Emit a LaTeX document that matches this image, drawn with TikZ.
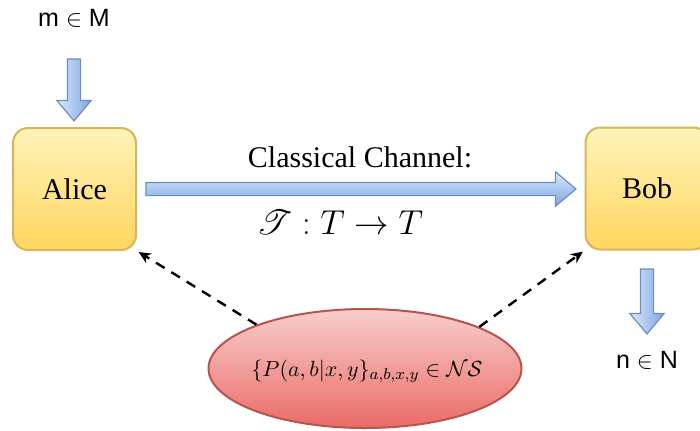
\documentclass[tikz,border=0pt]{standalone}
\usepackage{fontspec}
\setmainfont{Liberation Serif}
\setsansfont{Liberation Sans}
\usepackage{mathrsfs}
\usepackage{tkz-euclide}
\usetikzlibrary{shapes.geometric,shapes.arrows,arrows.meta}
\definecolor{partyline}{RGB}{214,182,86}
\definecolor{partytop}{RGB}{255,243,185}
\definecolor{partybot}{RGB}{255,214,95}
\definecolor{arrowline}{RGB}{108,142,191}
\definecolor{arrowtop}{RGB}{218,232,252}
\definecolor{arrowbot}{RGB}{126,166,224}
\definecolor{nsline}{RGB}{184,84,80}
\definecolor{nstop}{RGB}{248,206,204}
\definecolor{nsbot}{RGB}{234,107,102}
\tikzset{
  party/.style={draw=partyline,line width=1pt,rounded corners=7.5pt,
    top color=partytop,bottom color=partybot,
    minimum width=61.5pt,minimum height=61pt,font=\fontsize{15}{18}\selectfont},
  blockarrow/.style={single arrow,draw=arrowline,line width=0.6pt,inner sep=3pt,
    single arrow head extend=5.25pt,single arrow tip angle=80},
  dasharrow/.style={line width=1.2pt,dash pattern=on 5pt off 4pt,
    -{Stealth[length=6pt,width=5.5pt]}}
}

\begin{document}
\begin{tikzpicture}[x=0.5pt,y=0.5pt]
            \path[use as bounding box,clip] (0,0) rectangle (700,430);
            \tkzDefPoint(74.5,241){A}
            \tkzDefPoint(647,241.5){B}
            \tkzDefPoint(365,61.5){C}
            \tkzDefPoint(367,58.5){D}
            \tkzDefPoint(74,412){M}
            \tkzDefPoint(647,70){N}
            \tkzDefPoint(74,344){U}
            \tkzDefPoint(647,132.5){V}
            \tkzDefPoint(357,241){W}
            \node[party] (alice) at (A) {Alice};
            \node[party] (bob) at (B) {Bob};
            \node[ellipse,draw=nsline,line width=1pt,top color=nstop,bottom color=nsbot,
              minimum width=156.5pt,minimum height=59.5pt] (ns) at (C) {};
            \node[font=\fontsize{11}{13}\selectfont] (nstext) at (D)
              {$\{P(a,b|x,y\}_{a,b,x,y}\in\mathcal{NS}$};
            \node[font=\sffamily\fontsize{12.5}{15}\selectfont] (msg) at (M) {m $\in$ M};
            \node[font=\sffamily\fontsize{12.5}{15}\selectfont] (out) at (N) {n $\in$ N};
            \node[blockarrow,rotate=-90,minimum height=31pt,
              left color=arrowtop,right color=arrowbot] (inarrow) at (U) {};
            \node[blockarrow,rotate=-90,minimum height=32.5pt,
              left color=arrowtop,right color=arrowbot] (outarrow) at (V) {};
            \node[blockarrow,minimum height=215pt,
              top color=arrowtop,bottom color=arrowbot] (channel) at (W) {};
            \node[font=\fontsize{15}{18}\selectfont] (cc) at (360,273) {Classical Channel:};
            \node[font=\fontsize{18}{21}\selectfont] (map) at (340,208)
              {$\mathscr{T}:T\rightarrow T$};
            \draw[dasharrow,shorten >=1pt] (ns.158) -- (alice.south east);
            \draw[dasharrow,shorten >=1pt] (ns.20) -- (bob.south west);
        \end{tikzpicture}
\end{document}
